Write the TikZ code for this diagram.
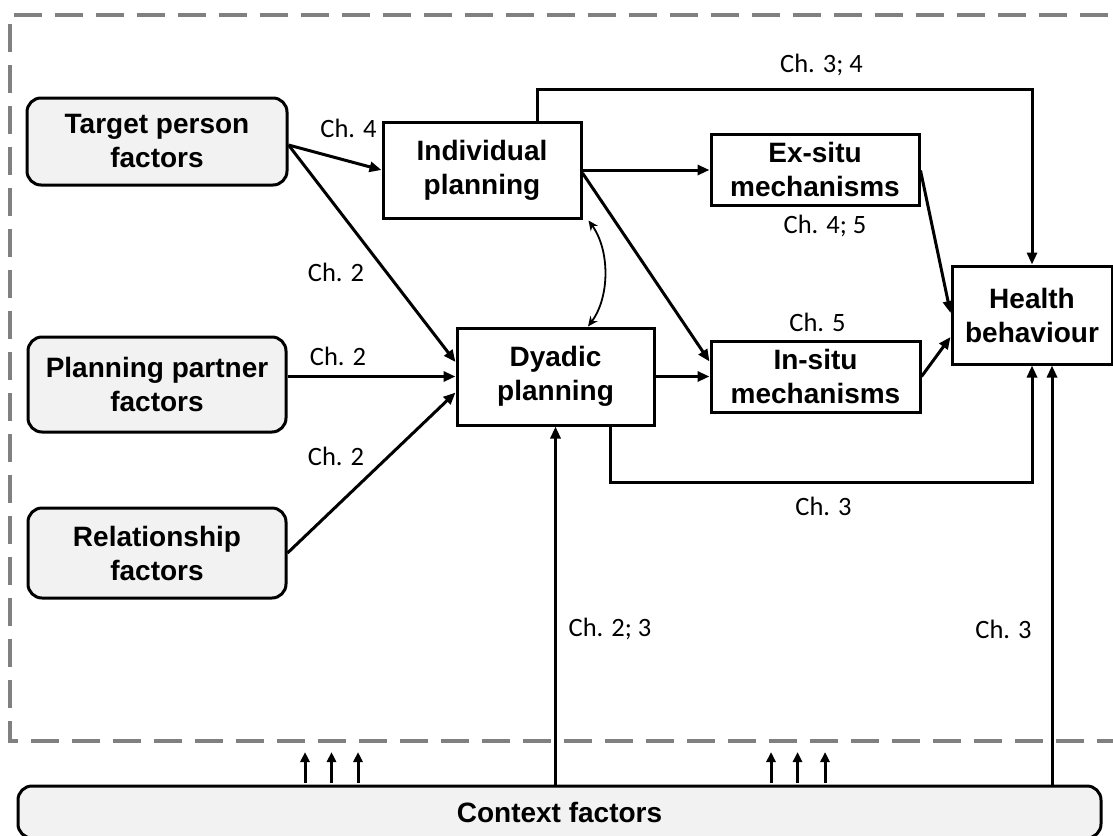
\documentclass[tikz,border=0pt]{standalone}
\usepackage{fontspec}
\setmainfont{Liberation Sans}
\newfontfamily\chfont{Carlito}
\usetikzlibrary{arrows.meta}
\definecolor{boxgray}{HTML}{F2F2F2}
\definecolor{framegray}{HTML}{808080}

\begin{document}
\begin{tikzpicture}[x=1pt,y=-1pt,
  box/.style={draw=black,line width=3pt,inner sep=0pt,align=center,
    font=\bfseries\fontsize{28}{34}\selectfont},
  factor/.style={box,fill=boxgray,rounded corners=14pt},
  plainbox/.style={box,fill=white},
  link/.style={line width=3pt,-{Triangle[length=12pt,width=10pt]}},
  smallarrow/.style={line width=3pt,-{Triangle[length=10pt,width=9pt]}},
  bothways/.style={line width=1.8pt,{Stealth[length=10pt,width=9pt]}-{Stealth[length=10pt,width=9pt]}},
  chlabel/.style={font=\chfont\fontsize{26.5}{30}\selectfont,inner sep=0pt},
  frame/.style={draw=framegray,line width=3.4pt,dash pattern=on 28pt off 13pt}
]
\useasboundingbox (0,0) rectangle (1113,835);

% outer dashed frame (right side runs past the page)
\draw[frame] (1125,741) -- (10,741) -- (10,15) -- (1125,15);

% context bar along the bottom
\node[factor,minimum width=1083pt,minimum height=52pt] (cf) at (559.5,812) {Context factors};

% factor boxes
\node[factor,minimum width=260pt,minimum height=87pt] (tp) at (157,141.5) {Target person\\factors};
\node[factor,minimum width=258pt,minimum height=95pt] (pp) at (157,384.5) {Planning partner\\factors};
\node[factor,minimum width=258pt,minimum height=90pt] (rf) at (157,553) {Relationship\\factors};

% planning, mechanisms and outcome
\node[plainbox,minimum width=198pt,minimum height=96pt] (ip) at (482,170) {Individual\\planning};
\node[plainbox,minimum width=197pt,minimum height=97pt] (dp) at (555.5,376.5) {Dyadic\\planning};
\node[plainbox,minimum width=208pt,minimum height=71pt] (ex) at (815,169.5) {Ex-situ\\mechanisms};
\node[plainbox,minimum width=209pt,minimum height=71pt] (in) at (815.5,376.5) {In-situ\\mechanisms};
\node[plainbox,minimum width=160pt,minimum height=98pt] (hb) at (1032,315) {Health\\behaviour};

% bend points of the two routed paths
\coordinate (top) at (537.5,89.5);
\coordinate (bot) at (610,482);

% factors into planning
\draw[link] ([yshift=-3.5pt]tp.east) -- (ip.west);
\draw[link] ([yshift=-3.5pt]tp.east) -- ([yshift=14.5pt]dp.west);
\draw[link] (pp.east |- dp.west) -- (dp.west);
\draw[link] (rf.east) -- ([yshift=-16pt]dp.west);

% planning into mechanisms
\draw[link] (ip.east) -- (ip.east -| ex.west);
\draw[link] ([yshift=-3pt]ip.east) -- ([yshift=15pt]in.west);
\draw[link] (dp.east) -- (in.west);

% mechanisms into behaviour
\draw[link] ([yshift=-1pt]ex.east) -- ([yshift=2pt]hb.west);
\draw[link] (in.east) -- ([yshift=-22pt]hb.west);

% direct paths to behaviour
\draw[link] (top |- ip.north) -- (top) -| (hb.north);
\draw[link] (bot |- dp.south) -- (bot) -| (hb.south);

% link between the two kinds of planning
\draw[bothways] ([xshift=6pt,yshift=-1pt]ip.south east)
  .. controls (610,250) and (610,297) .. ([xshift=32.5pt]dp.north);

% context effects
\draw[link] (cf.north -| dp.south) -- (dp.south);
\draw[link] ([xshift=20pt]hb.south |- cf.north) -- ([xshift=20pt]hb.south);
\foreach \x in {305,331.5,358,771,797.5,825}
  \draw[smallarrow] (\x,783) -- (\x,752);

% chapter labels
\node[chlabel] (l1) at (348.5,128) {Ch. 4};
\node[chlabel] (l2) at (336,272) {Ch. 2};
\node[chlabel] (l3) at (338,356) {Ch. 2};
\node[chlabel] (l4) at (336,456) {Ch. 2};
\node[chlabel] (l5) at (821.5,65) {Ch. 3; 4};
\node[chlabel] (l6) at (825,226) {Ch. 4; 5};
\node[chlabel] (l7) at (817.5,322) {Ch. 5};
\node[chlabel] (l8) at (823.5,506) {Ch. 3};
\node[chlabel] (l9) at (610,629) {Ch. 2; 3};
\node[chlabel] (l10) at (1003.5,629) {Ch. 3};
\end{tikzpicture}
\end{document}
